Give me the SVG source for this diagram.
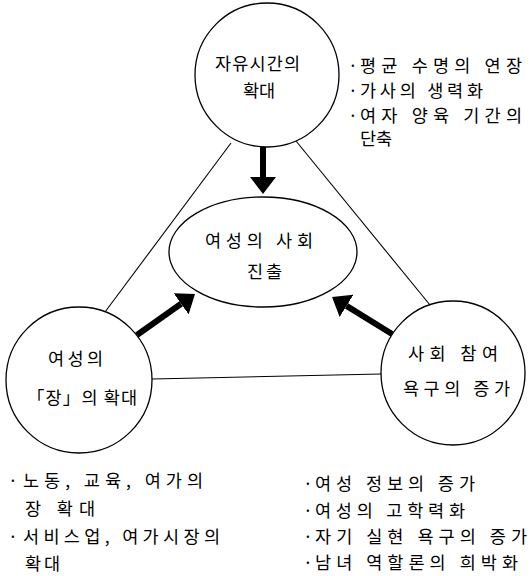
<svg xmlns="http://www.w3.org/2000/svg" width="530" height="576" viewBox="0 0 530 576">
  <style>
    .shape { fill: none; stroke: #000; stroke-width: 1.3; }
    .link { fill: none; stroke: #000; stroke-width: 1.1; }
    .arrow { fill: none; stroke: #000; stroke-width: 6; marker-end: url(#head); }
    text { font-family: "Noto Sans CJK KR", "Noto Sans", sans-serif; font-size: 17.5px; fill: #000; }
  </style>
  <defs>
    <marker id="head" markerUnits="userSpaceOnUse" markerWidth="17" markerHeight="26" refX="0" refY="13" orient="auto">
      <path d="M0,0 L17,13 L0,26 Z" fill="#000"/>
    </marker>
  </defs>
  <rect width="530" height="576" fill="#fff"/>

  <!-- triangle connectors and thick arrows -->
  <g id="connectors">
    <line class="link" x1="231" y1="143" x2="105" y2="312"/>
    <line class="link" x1="296" y1="141" x2="430" y2="305"/>
    <line class="link" x1="152" y1="379" x2="381" y2="374"/>
    <line class="arrow" x1="263" y1="147" x2="263" y2="177"/>
    <line class="arrow" x1="137" y1="335" x2="181.1" y2="303.8"/>
    <line class="arrow" x1="392" y1="334" x2="346.5" y2="305.9"/>
  </g>

  <g id="free-time">
    <circle class="shape" cx="267" cy="75" r="72"/>
    <text x="215" y="70" textLength="85" lengthAdjust="spacing">자유시간의</text>
    <text x="243" y="97" textLength="32" lengthAdjust="spacing">확대</text>
  </g>

  <g id="free-time-notes">
    <text x="348" y="72"><tspan>·</tspan><tspan x="360" textLength="162" lengthAdjust="spacing">평균 수명의 연장</tspan></text>
    <text x="348" y="97"><tspan>·</tspan><tspan x="360" textLength="123" lengthAdjust="spacing">가사의 생력화</tspan></text>
    <text x="348" y="122"><tspan>·</tspan><tspan x="360" textLength="162" lengthAdjust="spacing">여자 양육 기간의</tspan></text>
    <text x="360" y="145" textLength="32" lengthAdjust="spacing">단축</text>
  </g>

  <g id="advance">
    <ellipse class="shape" cx="263" cy="252" rx="94" ry="55"/>
    <text x="205" y="247" textLength="108" lengthAdjust="spacing">여성의 사회</text>
    <text x="247" y="278" textLength="35" lengthAdjust="spacing">진출</text>
  </g>

  <g id="place">
    <circle class="shape" cx="79" cy="380" r="73"/>
    <text x="48" y="365" textLength="55" lengthAdjust="spacing">여성의</text>
    <text x="27" y="404" textLength="110" lengthAdjust="spacing">「장」의 확대</text>
  </g>

  <g id="participation">
    <circle class="shape" cx="453" cy="373" r="72"/>
    <text x="408" y="360" textLength="90" lengthAdjust="spacing">사회 참여</text>
    <text x="403" y="395" textLength="107" lengthAdjust="spacing">욕구의 증가</text>
  </g>

  <g id="place-notes">
    <text x="8" y="487"><tspan>·</tspan><tspan x="23" textLength="180" lengthAdjust="spacing">노동, 교육, 여가의</tspan></text>
    <text x="25" y="515" textLength="70" lengthAdjust="spacing">장 확대</text>
    <text x="8" y="543"><tspan>·</tspan><tspan x="23" textLength="197" lengthAdjust="spacing">서비스업, 여가시장의</tspan></text>
    <text x="25" y="570" textLength="35" lengthAdjust="spacing">확대</text>
  </g>

  <g id="participation-notes">
    <text x="303" y="490"><tspan>·</tspan><tspan x="315" textLength="160" lengthAdjust="spacing">여성 정보의 증가</tspan></text>
    <text x="303" y="517"><tspan>·</tspan><tspan x="315" textLength="150" lengthAdjust="spacing">여성의 고학력화</tspan></text>
    <text x="303" y="543"><tspan>·</tspan><tspan x="315" textLength="212" lengthAdjust="spacing">자기 실현 욕구의 증가</tspan></text>
    <text x="303" y="569"><tspan>·</tspan><tspan x="315" textLength="203" lengthAdjust="spacing">남녀 역할론의 희박화</tspan></text>
  </g>
</svg>
